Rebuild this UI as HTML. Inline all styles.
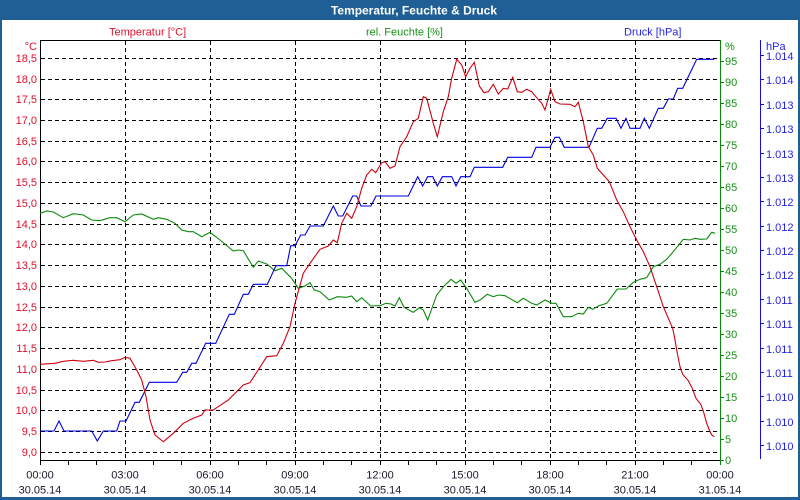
<!DOCTYPE html>
<html><head><meta charset="utf-8"><style>
html,body{margin:0;padding:0;background:#fff;}
svg{display:block;}
text{font-family:"Liberation Sans",Arial,sans-serif;font-size:11px;}
</style></head><body>
<svg width="800" height="500" viewBox="0 0 800 500" xmlns="http://www.w3.org/2000/svg">
<rect x="0" y="0" width="800" height="500" fill="#ffffff"/>
<!-- title bar + border -->
<rect x="0" y="0" width="800" height="20" fill="#1f5f95"/>
<rect x="0" y="20" width="2" height="480" fill="#1f5f95"/>
<rect x="798" y="20" width="2" height="480" fill="#1f5f95"/>
<rect x="0" y="497" width="800" height="3" fill="#1f5f95"/>
<text x="331" y="14.5" fill="#ffffff" style="font-size:12px;font-weight:bold" textLength="166" lengthAdjust="spacingAndGlyphs">Temperatur, Feuchte &amp; Druck</text>

<!-- header labels -->
<text x="109" y="35.5" fill="#e0102c">Temperatur [°C]</text>
<text x="443" y="35.5" fill="#189018" text-anchor="end">rel. Feuchte [%]</text>
<text x="624" y="35.5" fill="#2424e0">Druck [hPa]</text>

<!-- grid -->
<g stroke="#000" stroke-width="1" stroke-dasharray="4,3" shape-rendering="crispEdges" fill="none">
<path d="M41 452.5H720M41 431.5H720M41 410.5H720M41 390.5H720M41 369.5H720M41 348.5H720M41 327.5H720M41 307.5H720M41 286.5H720M41 265.5H720M41 244.5H720M41 224.5H720M41 203.5H720M41 182.5H720M41 161.5H720M41 141.5H720M41 120.5H720M41 99.5H720M41 79.5H720M41 58.5H720"/>
<path d="M125.5 41V466M210.5 41V466M295.5 41V466M380.5 41V466M465.5 41V466M550.5 41V466M635.5 41V466"/>
</g>

<!-- frame -->
<g shape-rendering="crispEdges" stroke-width="1" fill="none">
<path d="M40.5 40V461M40 40.5H721M40 460.5H721" stroke="#000"/>
<path d="M720.5 40V465" stroke="#0a8a0a"/>
<path d="M760.5 40V459" stroke="#1010e0"/>
<!-- bottom hourly ticks -->
<path stroke="#000" d="M40.5 461v4M68.5 461v4M96.5 461v4M125.5 461v4M153.5 461v4M181.5 461v4M210.5 461v4M238.5 461v4M266.5 461v4M295.5 461v4M323.5 461v4M351.5 461v4M380.5 461v4M408.5 461v4M436.5 461v4M465.5 461v4M493.5 461v4M521.5 461v4M550.5 461v4M578.5 461v4M606.5 461v4M635.5 461v4M663.5 461v4M691.5 461v4"/>
<!-- humidity ticks -->
<path stroke="#0a8a0a" d="M721 460.5h3M721 439.5h3M721 418.5h3M721 397.5h3M721 376.5h3M721 355.5h3M721 334.5h3M721 313.5h3M721 292.5h3M721 271.5h3M721 250.5h3M721 229.5h3M721 208.5h3M721 187.5h3M721 166.5h3M721 145.5h3M721 124.5h3M721 103.5h3M721 82.5h3M721 61.5h3"/>
<!-- pressure ticks -->
<path stroke="#1010e0" d="M761 55.5h3M761 79.5h3M761 104.5h3M761 128.5h3M761 153.5h3M761 177.5h3M761 201.5h3M761 226.5h3M761 250.5h3M761 274.5h3M761 299.5h3M761 323.5h3M761 348.5h3M761 372.5h3M761 396.5h3M761 421.5h3M761 445.5h3"/>
</g>

<!-- left axis labels -->
<g fill="#e0102c" text-anchor="end">
<text x="37" y="50">°C</text>
<text x="37" y="62">18,5</text>
<text x="37" y="83">18,0</text>
<text x="37" y="103">17,5</text>
<text x="37" y="124">17,0</text>
<text x="37" y="145">16,5</text>
<text x="37" y="165">16,0</text>
<text x="37" y="186">15,5</text>
<text x="37" y="207">15,0</text>
<text x="37" y="228">14,5</text>
<text x="37" y="248">14,0</text>
<text x="37" y="269">13,5</text>
<text x="37" y="290">13,0</text>
<text x="37" y="311">12,5</text>
<text x="37" y="331">12,0</text>
<text x="37" y="352">11,5</text>
<text x="37" y="373">11,0</text>
<text x="37" y="394">10,5</text>
<text x="37" y="414">10,0</text>
<text x="37" y="435">9,5</text>
<text x="37" y="456">9,0</text>
</g>

<!-- humidity labels -->
<g fill="#189018">
<text x="725" y="50">%</text>
<text x="725" y="65">95</text>
<text x="725" y="86">90</text>
<text x="725" y="107">85</text>
<text x="725" y="128">80</text>
<text x="725" y="149">75</text>
<text x="725" y="170">70</text>
<text x="725" y="191">65</text>
<text x="725" y="212">60</text>
<text x="725" y="233">55</text>
<text x="725" y="254">50</text>
<text x="725" y="275">45</text>
<text x="725" y="296">40</text>
<text x="725" y="317">35</text>
<text x="725" y="338">30</text>
<text x="725" y="359">25</text>
<text x="725" y="380">20</text>
<text x="725" y="401">15</text>
<text x="725" y="422">10</text>
<text x="725" y="443">5</text>
<text x="725" y="464">0</text>
</g>

<!-- pressure labels -->
<g fill="#2424e0">
<text x="766" y="50">hPa</text>
<text x="766" y="60">1.014</text>
<text x="766" y="84">1.014</text>
<text x="766" y="109">1.013</text>
<text x="766" y="133">1.013</text>
<text x="766" y="158">1.013</text>
<text x="766" y="182">1.013</text>
<text x="766" y="206">1.012</text>
<text x="766" y="231">1.012</text>
<text x="766" y="255">1.012</text>
<text x="766" y="279">1.012</text>
<text x="766" y="304">1.011</text>
<text x="766" y="328">1.011</text>
<text x="766" y="353">1.011</text>
<text x="766" y="377">1.011</text>
<text x="766" y="401">1.010</text>
<text x="766" y="426">1.010</text>
<text x="766" y="450">1.010</text>
</g>

<!-- x labels -->
<g fill="#1a1a2a" text-anchor="middle">
<text x="40" y="478.5">00:00</text><text x="40" y="493.5">30.05.14</text>
<text x="125" y="478.5">03:00</text><text x="125" y="493.5">30.05.14</text>
<text x="210" y="478.5">06:00</text><text x="210" y="493.5">30.05.14</text>
<text x="295" y="478.5">09:00</text><text x="295" y="493.5">30.05.14</text>
<text x="380" y="478.5">12:00</text><text x="380" y="493.5">30.05.14</text>
<text x="465" y="478.5">15:00</text><text x="465" y="493.5">30.05.14</text>
<text x="550" y="478.5">18:00</text><text x="550" y="493.5">30.05.14</text>
<text x="635" y="478.5">21:00</text><text x="635" y="493.5">30.05.14</text>
<text x="720" y="478.5">00:00</text><text x="720" y="493.5">31.05.14</text>
</g>

<!-- humidity series -->
<polyline fill="none" stroke="#0a8a0a" stroke-width="1.1" points="40,213.3 46.7,211 53.3,212 63.3,217.7 73.3,213.7 83.3,215 91.7,220 100,220.7 110,217.7 116.7,217.7 125,221.7 133.3,215 141.7,214 153.3,219.3 158.3,217.7 166.7,219.3 175,223.3 181.7,230 188.3,231.7 193.3,231.7 201.7,236.7 210,232.3 220,240 233.3,251 238.3,250 243.3,250.7 253.3,267.3 258.3,261 266.7,264 275,270.7 281.7,268.3 291.7,278.3 298.3,288.3 305,286 310,282.7 314.3,290 320,291.7 329.3,300 337.3,296.7 346.7,297.3 351.7,296 356.7,301.7 361.7,297.7 370.7,306 380,305.7 386,303.3 391,304 395,306 399.3,297.7 404,307.3 413.3,312.3 419.3,307.7 423.3,310 427.7,320 436.7,295 443.3,286.7 451,279.3 456,283.3 460.7,280 466.7,288.3 475,302.3 480,300 487.3,294.3 493.3,296.7 498.3,295 505,295.7 517.3,302.7 523.3,298.3 531.7,303.3 536.7,305 545,300 551.7,303.3 556,303.3 563.3,316.7 571.7,316.7 578.3,313.3 583.3,314 588.3,307.3 592.7,309.3 598.3,306 606.7,303.3 611.7,296.7 617.3,289 626,289 633.3,282.3 640,279.3 646.7,277.7 653.3,266.7 660,264.3 666.7,259.3 673.3,251.7 683.3,239.3 690,240 695,238.3 700,239.3 706.7,239 711.7,232.3 715,233.3"/>

<!-- pressure series -->
<polyline fill="none" stroke="#0000e0" stroke-width="1.1" points="40,431 54,431 59,421 64,431 91.7,431 97.3,441 103.3,431 116.7,431 120,421 126,421 135,402.3 139.3,402.3 149.3,382.3 176.7,382.3 182.7,372.3 186.7,372.3 191.7,363.3 196,363.3 205.7,343.3 215.7,343.3 229.3,314.3 234.3,314.3 243.3,294.3 248.3,294.3 253.3,284.3 267.3,284.3 276,265.7 286.7,265.7 290.7,245.7 295,245.7 300.7,235 305,235 310,226 323.3,226 333.3,206 338.3,216 342.7,216 352.7,196 356.7,196 361,206 371,206 376,196 408.3,196 417.7,176.7 422.7,186 427.7,176.7 432.7,176.7 437.3,186 442.3,176.7 451.7,176.7 456,186 460.7,176.7 470,176.7 474.3,167.3 502.7,167.3 507.7,157.3 531.7,157.3 536,147.3 550,147.3 555,137.3 559.3,137.3 564.3,147.3 589,147.3 597.3,128.3 601.7,128.3 607.3,118.3 616,118.3 621,128.3 626,118.3 630,128.3 640,128.3 644.3,118.3 649.3,128.3 658.3,108.3 663.3,108.3 668.3,99 673.3,99 677.7,88.3 682.7,88.3 696.7,59.3 714.3,59.3"/>

<!-- temperature series -->
<polyline fill="none" stroke="#d00010" stroke-width="1.1" points="40,364.3 55,363.3 63.3,361.3 73.3,360.3 83.3,361.3 93.3,360.3 98.3,362.3 105,362 111.7,360.7 120,359.7 125,357.3 130,358.3 136.7,370 141.7,380 146,396.7 150,420 155,435 163.3,441.7 173.3,433.3 183.3,423.3 193.3,418.3 201.7,415 205,410 213.3,410 228.3,400 243.3,385 250,382.7 266.7,356.7 276.7,355.7 283.3,343.3 290,326.7 295,303.3 303.3,273.3 310,263.3 320,249.3 328.3,246 333.3,240 337.3,242.7 341.7,223.3 346.7,213.3 351.7,218.3 356.7,206.7 361.7,188.3 366.7,175 371.7,169.3 375.7,172.7 381.7,162.7 385,161.7 390,168.3 395,166 400,146.7 406.7,136.7 413.3,121.7 418.3,118.3 423.3,96.7 426.7,98.3 433.3,123.3 437.3,136.7 443.3,111.7 448.3,96.7 451.7,78.3 456.7,59.3 461.7,65 465.7,76.7 470,68.3 474.3,62.3 479.3,86 484,92.7 488.3,91.7 493.3,84.3 498.3,94 503.3,88.3 507.7,89 512.7,77.3 517.3,91.7 521.7,92.3 526.7,89.3 531.7,91.7 536.7,97.7 541.7,103.3 545,110 550.7,89.3 555,101.7 560,104 570,104.3 575,106.7 578.3,102.3 583.3,121.7 588.3,146.7 593.3,155 597.3,168.3 603.3,175 609.3,181.7 616.7,200 623.3,211.7 630,226.7 636.7,240 643.3,251.7 650,266.7 656.7,286.7 663.3,306.7 668.3,318.3 672.7,328.3 675,340 677.3,353.3 680,366.7 682.7,374.3 688.3,380.7 692.3,388.3 696,398.3 700.7,404.3 703.3,411 706.7,423.3 709.3,430 711.7,435 714.3,436.7"/>
</svg>
</body></html>
